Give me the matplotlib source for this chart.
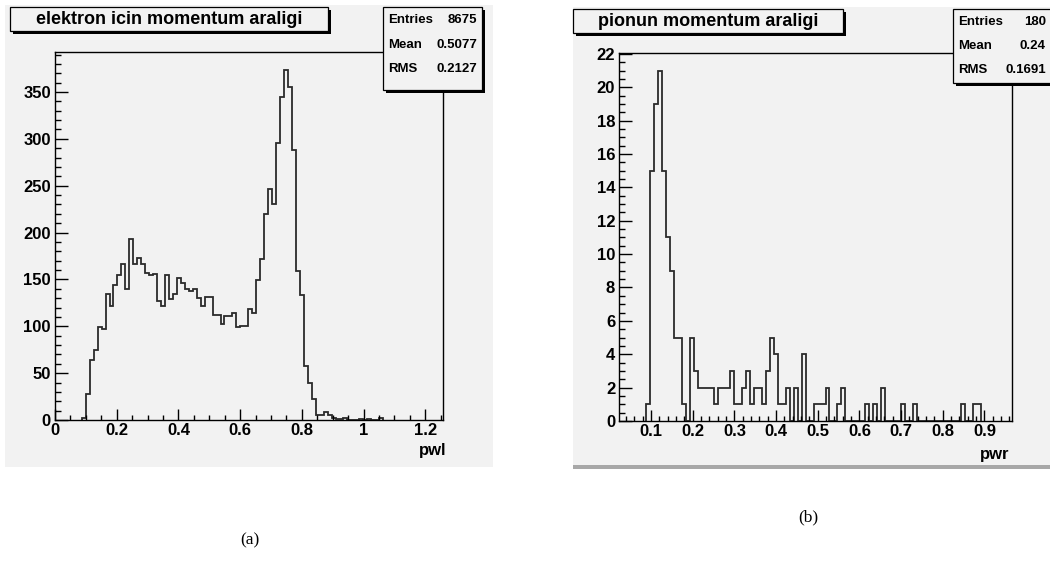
import numpy as np
import matplotlib
matplotlib.use("Agg")
import matplotlib.pyplot as plt
from matplotlib.patches import Rectangle
from matplotlib.ticker import MultipleLocator, FuncFormatter

# ---------------- data ----------------
pwl_title = "elektron icin momentum araligi"
pwl_label = "pwl"
pwl_first_edge = 0.0867
pwl_bin_width = 0.01285
pwl_counts = [2, 28, 64, 75, 99, 97, 134, 122, 144, 155, 167, 140, 193, 166, 173,
              167, 157, 155, 156, 127, 122, 155, 129, 134, 152, 146, 140, 138, 140,
              130, 122, 131, 131, 112, 112, 102, 111, 111, 114, 99, 100, 100, 118,
              114, 149, 172, 220, 246, 231, 296, 345, 374, 355, 288, 159, 133, 58,
              40, 22, 5, 5, 9, 5, 2, 1, 1, 2, 0, 0, 0, 1, 0, 1, 0, 0, 2]
pwl_stats = [("Entries", "8675"), ("Mean", "0.5077"), ("RMS", "0.2127")]

pwr_title = "pionun momentum araligi"
pwr_label = "pwr"
pwr_first_edge = 0.0879
pwr_bin_width = 0.00957
pwr_counts = [1, 15, 19, 21, 15, 11, 9, 5, 5, 1, 0, 5, 3, 2, 2, 2, 2, 1, 2, 2, 2, 3,
              1, 1, 2, 3, 1, 2, 2, 1, 3, 5, 4, 1, 1, 2, 0, 2, 0, 4, 0, 0, 1, 1, 1, 2,
              0, 0, 1, 2, 0, 0, 0, 0, 0, 1, 0, 1, 0, 2, 0, 0, 0, 0, 1, 0, 0, 1,
              0, 0, 0, 0, 0, 0, 0, 0, 0, 0, 0, 1, 0, 0, 1, 1]
pwr_stats = [("Entries", "180"), ("Mean", "0.24"), ("RMS", "0.1691")]

captions = ["(a)", "(b)"]

# ---------------- style ----------------
plt.rcParams["font.family"] = ["Liberation Sans", "DejaVu Sans"]
plt.rcParams["font.weight"] = "bold"

W, H = 1050, 567
fig = plt.figure(figsize=(W / 100, H / 100), dpi=100)
fig.patch.set_facecolor("white")

PAD = "#f2f2f2"
LINE = "#2b2b2b"


def fx(x):
    return x / W


def fy(y):
    return 1 - y / H


def rect(x0, y0, x1, y1, fc, ec="none", lw=0.0, z=0):
    r = Rectangle((fx(x0), fy(y1)), fx(x1) - fx(x0), fy(y0) - fy(y1),
                  transform=fig.transFigure, facecolor=fc, edgecolor=ec,
                  linewidth=lw, zorder=z)
    fig.add_artist(r)


def shadow_box(x0, y0, x1, y1, z=5):
    rect(x0 + 3, y0 + 3, x1 + 3, y1 + 3, "black", z=z)
    rect(x0, y0, x1, y1, PAD, ec="black", lw=0.9, z=z + 0.1)


def axes_px(x0, y0, x1, y1):
    return fig.add_axes([fx(x0), fy(y1), fx(x1) - fx(x0), fy(y0) - fy(y1)])


fmt = FuncFormatter(lambda v, p: "%g" % round(v, 6))

# pads
rect(5, 5, 493, 467, PAD, z=-2)
rect(573, 7, 1050, 465, PAD, z=-2)
rect(573, 465, 1050, 469, "#a8a8a8", z=-2)


def panel(frame, xlim, xmaj, xmin_, ymaj, ymin_, counts, first, width):
    ax = axes_px(*frame)
    ax.set_facecolor("none")
    edges = first + width * np.arange(len(counts) + 1)
    ax.stairs(counts, edges, baseline=0, color=LINE, lw=1.3)
    ax.set_xlim(*xlim)
    ax.set_ylim(0, 1.05 * max(counts))
    ax.xaxis.set_major_locator(MultipleLocator(xmaj))
    ax.xaxis.set_minor_locator(MultipleLocator(xmin_))
    ax.yaxis.set_major_locator(MultipleLocator(ymaj))
    ax.yaxis.set_minor_locator(MultipleLocator(ymin_))
    ax.xaxis.set_major_formatter(fmt)
    ax.yaxis.set_major_formatter(fmt)
    ax.tick_params(which="both", direction="in", top=False, right=False,
                   color="black", width=1.0)
    ax.tick_params(axis="x", which="major", length=8, pad=2, labelsize=12)
    ax.tick_params(axis="x", which="minor", length=3.8)
    ax.tick_params(axis="y", which="major", length=9, pad=3, labelsize=12)
    ax.tick_params(axis="y", which="minor", length=4.5)
    for s in ax.spines.values():
        s.set_color("black")
        s.set_linewidth(1.0)
    return ax


axL = panel((55, 52, 443, 420), (0, 1.2575), 0.2, 0.05, 50, 10,
            pwl_counts, pwl_first_edge, pwl_bin_width)
axR = panel((619.3, 53, 1012, 421), (0.0238, 0.966), 0.1, 0.02, 2, 0.5,
            pwr_counts, pwr_first_edge, pwr_bin_width)

# title boxes
shadow_box(10, 7, 328, 31)
fig.text(fx(169), fy(19), pwl_title, ha="center", va="center", fontsize=13,
         fontweight="bold", zorder=6)
shadow_box(573, 9, 843, 33)
fig.text(fx(708), fy(21), pwr_title, ha="center", va="center", fontsize=13,
         fontweight="bold", zorder=6)

# stats boxes
shadow_box(383, 7, 482, 90)
for i, (k, v) in enumerate(pwl_stats):
    yy = 20 + i * 24.5
    fig.text(fx(388), fy(yy), k, ha="left", va="center", fontsize=9.5, zorder=7)
    fig.text(fx(477), fy(yy), v, ha="right", va="center", fontsize=9.5, zorder=7)
shadow_box(953, 9, 1062, 83)
for i, (k, v) in enumerate(pwr_stats):
    yy = 22 + i * 24
    fig.text(fx(958), fy(yy), k, ha="left", va="center", fontsize=9.5, zorder=7)
    fig.text(fx(1046), fy(yy), v, ha="right", va="center", fontsize=9.5, zorder=7)

# axis labels
fig.text(fx(446), fy(451), pwl_label, ha="right", va="center", fontsize=12)
fig.text(fx(1009), fy(455), pwr_label, ha="right", va="center", fontsize=12)

# captions
fig.text(fx(250), fy(540), captions[0], ha="center", va="center", fontsize=12.5,
         family=["Liberation Serif", "DejaVu Serif"], fontweight="normal")
fig.text(fx(808), fy(517), captions[1], ha="center", va="center", fontsize=12.5,
         family=["Liberation Serif", "DejaVu Serif"], fontweight="normal")

fig.savefig("out.png", dpi=100, facecolor="white")
